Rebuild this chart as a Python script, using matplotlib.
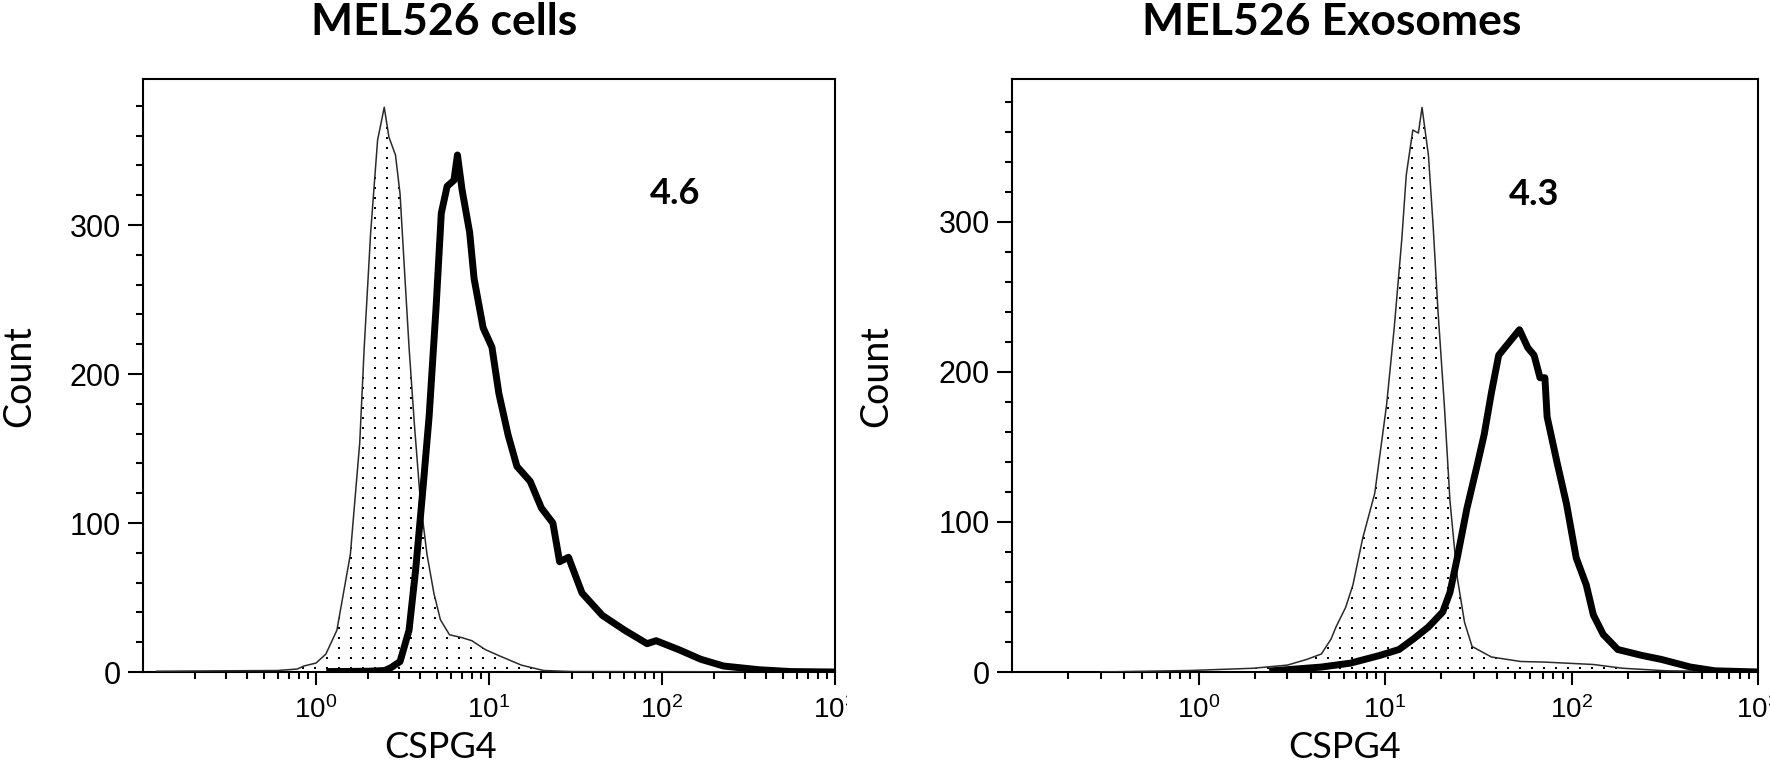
import numpy as np
import matplotlib
matplotlib.use('Agg')
import matplotlib.pyplot as plt
from matplotlib.ticker import FixedLocator, FixedFormatter, NullFormatter
from matplotlib.transforms import Bbox

plt.rcParams['mathtext.fontset'] = 'custom'
plt.rcParams['mathtext.rm'] = 'Liberation Sans'
plt.rcParams['mathtext.default'] = 'regular'

W, H = 1770, 761

titles = ['MEL526 cells', 'MEL526 Exosomes']
x_label = 'CSPG4'
y_label = 'Count'
mfi_labels = ['4.6', '4.3']
mfi_pos = [(119, 321), (63, 318)]

# isotype control (dotted fill), MEL526 cells
ctrl_cells_x = [0.12, 0.3, 0.6, 0.78, 0.85, 1.0, 1.14, 1.32, 1.58, 1.79, 1.90, 2.07, 2.27,
                2.48, 2.64, 2.88, 3.06, 3.25, 3.45, 3.70, 4.01, 4.38, 4.80, 5.24, 5.91,
                7.0, 7.96, 9.53, 11.4, 15.4, 20.7, 30, 100, 1000]
ctrl_cells_y = [0.5, 0.8, 1, 2, 4, 6, 12, 28, 79, 154, 218, 295, 357,
                379, 359, 347, 321, 269, 218, 167, 115, 79, 53, 35, 25,
                23, 21, 15, 11, 4.6, 1, 0.3, 0.2, 0]

# CSPG4 stain (thick line), MEL526 cells
stain_cells_x = [1.2, 2.0, 2.5, 2.72, 3.06, 3.45, 3.77, 4.13, 4.51, 4.94, 5.30, 5.73,
                 6.27, 6.57, 6.98, 7.73, 8.20, 9.25, 10.4, 11.4, 12.9, 14.5, 17.3, 20.1,
                 23.4, 25.6, 28.8, 34.5, 45.2, 60.9, 82, 92.5, 125, 168, 227, 366, 556, 1000]
stain_cells_y = [0.3, 0.5, 1, 3, 7, 28, 69, 120, 172, 244, 308, 326,
                 330, 347, 324, 295, 264, 231, 218, 187, 159, 138, 128, 110,
                 100, 74, 77, 53, 38, 28, 19, 21, 15, 8.5, 4, 1.5, 0.3, 0]

# isotype control (dotted fill), MEL526 exosomes
ctrl_exo_x = [0.3, 0.9, 1.97, 3.0, 3.81, 4.56, 5.14, 5.46, 6.15, 6.73, 7.59, 8.81, 10.2,
              11.2, 12.3, 13.0, 14.1, 15.1, 15.8, 17.1, 18.1, 19.2, 20.8, 22.3, 24.4,
              26.7, 29.3, 37.2, 53.3, 71.9, 131, 188, 322, 1000]
ctrl_exo_y = [0, 1, 2.5, 4.6, 8.4, 12, 22, 30, 43, 58, 89, 119, 178,
              229, 288, 331, 361, 359, 376, 344, 298, 242, 178, 114, 63,
              33, 17, 10, 7, 6.6, 5, 2.5, 0.8, 0]

# CSPG4 stain (thick line), MEL526 exosomes
stain_exo_x = [2.5, 4.56, 6.53, 9.36, 11.9, 14.2, 17.1, 20.4, 22.3, 24.4, 27.5, 31.1,
               34, 37.2, 40.7, 45.9, 52.6, 58.3, 63, 67.8, 72, 74, 83.5, 94, 106,
               120, 131, 148, 177, 239, 303, 434, 587, 1000]
stain_exo_y = [0.8, 3.3, 5.9, 11, 15, 22, 30, 40, 53, 76, 109, 137,
               158, 186, 211, 219, 228, 216, 211, 196, 196, 170, 140, 112, 76,
               58, 38, 25, 15, 11, 8.4, 3.3, 0.8, 0]

x_major = [1, 10, 100, 1000]
x_major_labels = ['10$^0$', '10$^1$', '10$^2$', '10$^3$']
x_minor = [m * 10.0 ** e for e in range(-1, 3) for m in range(2, 10)]
y_major = [0, 100, 200, 300]
y_minor = list(range(20, 400, 20))


def px(x, y):
    # pixel position (from top-left) to figure fraction
    return x / W, 1 - y / H


def dotted_fill(ax, x, y, w_px, h_px):
    poly = ax.fill_between(x, y, 0, facecolor='white', edgecolor='none', zorder=1)
    gx, gy = np.meshgrid(np.arange(4, w_px, 12.0) / w_px, np.arange(4, h_px, 10.0) / h_px)
    dots = ax.scatter(gx.ravel(), gy.ravel(), s=3.6, marker='s', c='black',
                      linewidths=0, transform=ax.transAxes, zorder=2)
    dots.set_clip_path(poly.get_paths()[0], poly.get_transform())
    ax.plot(x, y, color='#2a2a2a', lw=1.1, zorder=3)


def make_panel(ax, ctrl_x, ctrl_y, stain_x, stain_y, w_px, h_px, ytop):
    dotted_fill(ax, ctrl_x, ctrl_y, w_px, h_px)
    ax.plot(stain_x, stain_y, color='black', lw=5.0, solid_joinstyle='round', zorder=4)
    ax.set_xscale('log')
    ax.set_xlim(0.1, 1000)
    ax.set_ylim(0, ytop)
    ax.xaxis.set_major_locator(FixedLocator(x_major))
    ax.xaxis.set_major_formatter(FixedFormatter(x_major_labels))
    ax.xaxis.set_minor_locator(FixedLocator(x_minor))
    ax.xaxis.set_minor_formatter(NullFormatter())
    ax.yaxis.set_major_locator(FixedLocator(y_major))
    ax.yaxis.set_minor_locator(FixedLocator(y_minor))
    ax.tick_params(which='both', direction='out', width=1.5, color='black')
    ax.tick_params(axis='y', which='major', length=11, pad=5, labelsize=22)
    ax.tick_params(axis='y', which='minor', length=5)
    ax.tick_params(axis='x', which='major', length=9.5, pad=8, labelsize=20)
    ax.tick_params(axis='x', which='minor', length=5)
    for s in ax.spines.values():
        s.set_linewidth(1.5)
    for lab in ax.get_xticklabels() + ax.get_yticklabels():
        lab.set_fontfamily('Liberation Sans')


fig = plt.figure(figsize=(W / 100, H / 100), dpi=100)
ax1 = fig.add_axes([143 / W, 89 / H, 692 / W, 593 / H])
ax2 = fig.add_axes([1012 / W, 89 / H, 746 / W, 593 / H])

make_panel(ax1, ctrl_cells_x, ctrl_cells_y, stain_cells_x, stain_cells_y, 692, 593, 398)
make_panel(ax2, ctrl_exo_x, ctrl_exo_y, stain_exo_x, stain_exo_y, 746, 593, 395)

# the left panel's last decade label is cut off by the neighbouring panel
last = ax1.xaxis.get_major_ticks()[-1].label1
last.set_clip_box(Bbox.from_extents(0, 0, 847, H))
last.set_clip_on(True)

for ax, txt, (mx, my) in zip([ax1, ax2], mfi_labels, mfi_pos):
    ax.text(mx, my, txt, ha='center', va='center', fontsize=26,
            fontweight='bold', fontfamily='Lato', zorder=5)

for cx, t in zip([444, 1332], titles):
    fig.text(*px(cx, 35), t, ha='center', va='baseline', fontsize=32,
             fontweight='bold', fontfamily='Lato')

for cx in [441, 1345]:
    fig.text(*px(cx, 747), x_label, ha='center', va='center', fontsize=26,
             fontfamily='Lato')

for cx in [19, 876]:
    fig.text(*px(cx, 376), y_label, ha='center', va='center', rotation=90,
             fontsize=27, fontfamily='Lato')

fig.savefig('out.png', dpi=100, facecolor='white')
